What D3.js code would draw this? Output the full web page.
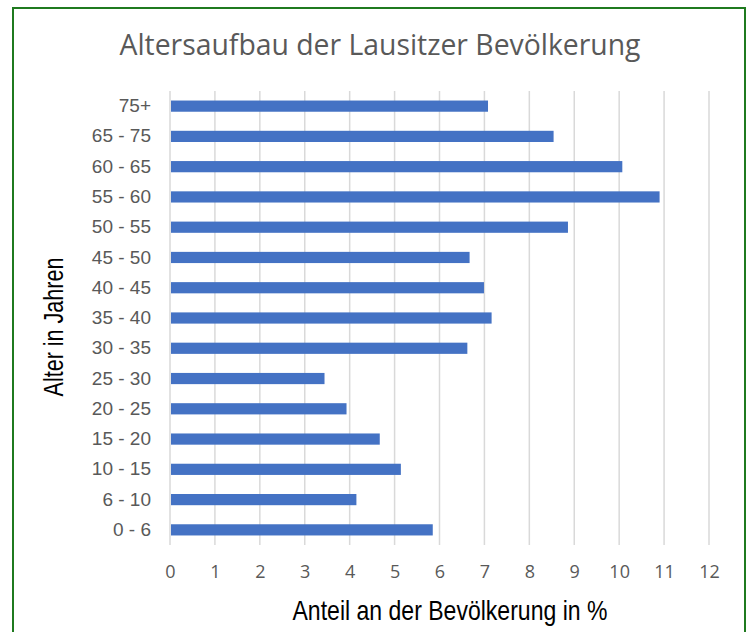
<!DOCTYPE html>
<html>
<head>
<meta charset="utf-8">
<script src="https://cdn.jsdelivr.net/npm/d3@7"></script>
<style>
  body { margin: 0; background: #fff; }
</style>
</head>
<body>
<div id="chart"></div>
<script>
// age groups, top to bottom as in the picture
const groups = ["75+", "65 - 75", "60 - 65", "55 - 60", "50 - 55", "45 - 50", "40 - 45", "35 - 40",
                "30 - 35", "25 - 30", "20 - 25", "15 - 20", "10 - 15", "6 - 10", "0 - 6"];
const shares = [7.08, 8.54, 10.07, 10.9, 8.86, 6.67, 6.99, 7.16, 6.62, 3.44, 3.93, 4.67, 5.14, 4.15, 5.85];
const xTicks = [0, 1, 2, 3, 4, 5, 6, 7, 8, 9, 10, 11, 12];

const title = "Altersaufbau der Lausitzer Bevölkerung";
const xTitle = "Anteil an der Bevölkerung in %";
const yTitle = "Alter in Jahren";

var width = 749, height = 632;
var margin = { top: 91, right: 40, bottom: 87, left: 170 };

const svg = d3.select("#chart").append("svg").attr("width", width).attr("height", height);

// frame
svg.append("rect")
    .attr("x", 13).attr("y", 8)
    .attr("width", 732).attr("height", 640)
    .attr("fill", "none")
    .attr("stroke", "#1f7a1f")
    .attr("stroke-width", 2);

const x_scale = d3.scaleLinear()
    .domain([0, 12])
    .range([margin.left, 709]);

const y_scale = d3.scaleBand()
    .domain(groups)
    .range([margin.top, height - margin.bottom])
    .paddingInner(0.63)
    .paddingOuter(0.315);

// grid
svg.append("g")
    .selectAll("line")
    .data(xTicks)
    .join("line")
    .attr("x1", d => x_scale(d)).attr("x2", d => x_scale(d))
    .attr("y1", margin.top).attr("y2", height - margin.bottom)
    .attr("stroke", "#d9d9d9")
    .attr("stroke-width", 1.5);

// bars
svg.append("g")
    .selectAll("rect")
    .data(shares)
    .join("rect")
    .attr("x", x_scale(0) + 1)
    .attr("y", (d, i) => y_scale(groups[i]))
    .attr("width", d => x_scale(d) - x_scale(0) - 1)
    .attr("height", y_scale.bandwidth())
    .attr("fill", "#4472c4");

// x axis labels
const xAxis = g => g.attr("transform", `translate(0,${height - margin.bottom})`)
    .call(d3.axisBottom(x_scale).tickValues(xTicks).tickSize(0).tickPadding(20))
    .call(g => g.select(".domain").remove());

svg.append("g")
    .call(xAxis)
    .attr("font-size", "18px")
    .attr("font-family", "Open Sans, sans-serif")
    .selectAll("text")
    .attr("fill", "#595959");

// y axis labels
const yAxis = g => g.attr("transform", `translate(${margin.left},0)`)
    .call(d3.axisLeft(y_scale).tickSize(0).tickPadding(19))
    .call(g => g.select(".domain").remove());

svg.append("g")
    .call(yAxis)
    .attr("font-size", "19px")
    .attr("font-family", "Liberation Sans, Arial, sans-serif")
    .selectAll("text")
    .attr("fill", "#595959");

svg.append("text")
    .attr("text-anchor", "middle")
    .attr("x", 380)
    .attr("y", 55)
    .text(title)
    .attr("textLength", 521)
    .attr("lengthAdjust", "spacingAndGlyphs")
    .style("font-family", "Open Sans, sans-serif")
    .style("font-size", "30px")
    .attr("fill", "#595959");

svg.append("text")
    .attr("text-anchor", "middle")
    .attr("x", 450)
    .attr("y", 620)
    .text(xTitle)
    .attr("textLength", 315)
    .attr("lengthAdjust", "spacingAndGlyphs")
    .style("font-family", "Liberation Sans, Arial, sans-serif")
    .style("font-size", "28px")
    .attr("fill", "#000");

svg.append("text")
    .attr("text-anchor", "middle")
    .attr("transform", "translate(63,327) rotate(-90)")
    .text(yTitle)
    .attr("textLength", 139)
    .attr("lengthAdjust", "spacingAndGlyphs")
    .style("font-family", "Liberation Sans, Arial, sans-serif")
    .style("font-size", "28px")
    .attr("fill", "#000");
</script>
</body>
</html>
